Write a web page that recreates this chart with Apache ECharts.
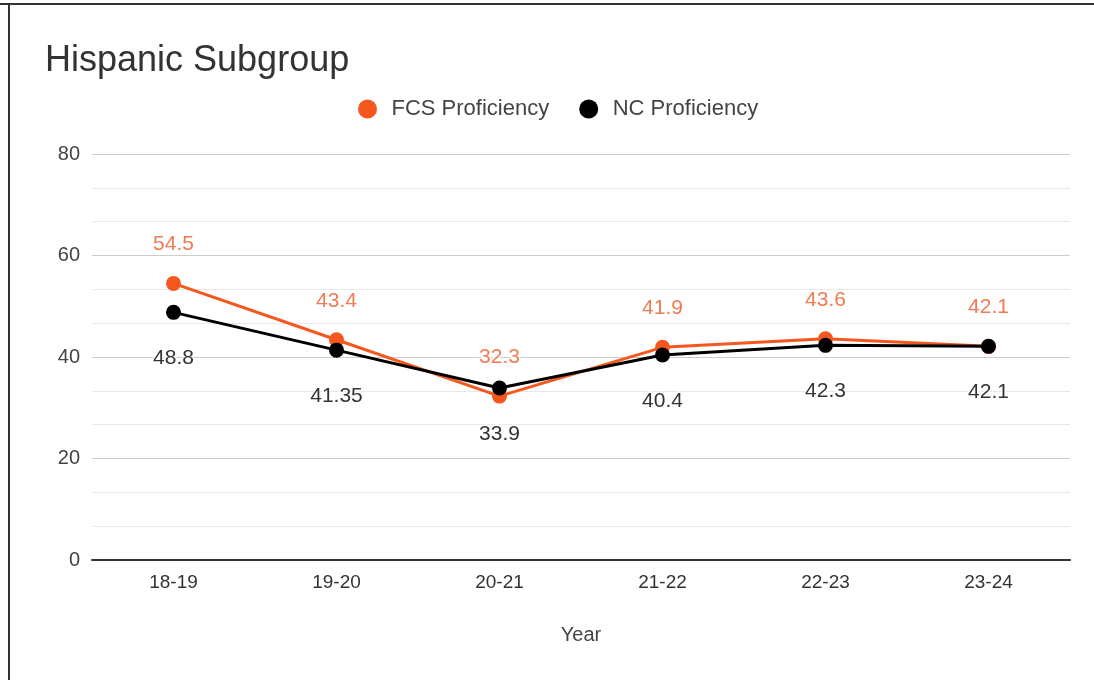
<!DOCTYPE html>
<html><head><meta charset="utf-8">
<script src="https://cdn.jsdelivr.net/npm/echarts@6/dist/echarts.min.js"></script>
<style>html,body{margin:0;padding:0;background:#fff}#c{width:1094px;height:680px}</style>
</head><body><div id="c"></div>
<script>
const categories = ['18-19','19-20','20-21','21-22','22-23','23-24'];
const fcsValues = [54.5, 43.4, 32.3, 41.9, 43.6, 42.1];
const ncValues = [48.8, 41.35, 33.9, 40.4, 42.3, 42.1];
const yTicks = [0, 20, 40, 60, 80];

const FONT = 'Liberation Sans, Arial, sans-serif';
const chart = echarts.init(document.getElementById('c'));
chart.setOption({
  backgroundColor: '#fff',
  animation: false,
  textStyle: { fontFamily: FONT },
  title: {
    text: 'Hispanic Subgroup', left: 40, top: 38,
    textStyle: { fontFamily: FONT, fontSize: 36, fontWeight: 'normal', color: '#333' }
  },
  legend: {
    top: 93, left: 353, itemGap: 30, itemWidth: 38, itemHeight: 19,
    icon: 'circle', symbolKeepAspect: true,
    textStyle: { fontFamily: FONT, fontSize: 22, color: '#444' },
    data: ['FCS Proficiency', 'NC Proficiency']
  },
  graphic: [
    { type: 'line', shape: { x1: 0, y1: 4, x2: 1094, y2: 4 }, style: { stroke: '#333', lineWidth: 2 } },
    { type: 'line', shape: { x1: 9, y1: 3, x2: 9, y2: 680 }, style: { stroke: '#333', lineWidth: 2 } }
  ],
  grid: { left: 92, right: 24, top: 154, bottom: 120, containLabel: false },
  xAxis: {
    type: 'category', data: categories, boundaryGap: true,
    name: 'Year', nameLocation: 'middle', nameGap: 65,
    nameTextStyle: { fontFamily: FONT, fontSize: 20, color: '#444' },
    axisLine: { lineStyle: { color: '#333', width: 2 } },
    axisTick: { show: false },
    axisLabel: { fontFamily: FONT, fontSize: 19, color: '#333', margin: 13 }
  },
  yAxis: {
    type: 'value', min: yTicks[0], max: yTicks[yTicks.length - 1], interval: 20,
    axisLine: { show: false }, axisTick: { show: false },
    axisLabel: { fontFamily: FONT, fontSize: 20, color: '#444', margin: 12 },
    splitLine: { lineStyle: { color: '#cccccc', width: 1 } },
    minorTick: { show: false, splitNumber: 3 },
    minorSplitLine: { show: true, lineStyle: { color: '#e8e8e8', width: 1 } }
  },
  series: [
    {
      name: 'FCS Proficiency', type: 'line', data: fcsValues,
      symbol: 'circle', symbolSize: 15, z: 2,
      itemStyle: { color: '#f4581f' },
      lineStyle: { color: '#f4581f', width: 3 },
      label: { show: true, position: 'top', distance: 21, fontFamily: FONT, fontSize: 21, color: '#f07a52',
               textBorderColor: '#fff', textBorderWidth: 3 }
    },
    {
      name: 'NC Proficiency', type: 'line', data: ncValues,
      symbol: 'circle', symbolSize: 15, z: 3,
      itemStyle: { color: '#000' },
      lineStyle: { color: '#000', width: 3 },
      label: { show: true, position: 'bottom', distance: 28, fontFamily: FONT, fontSize: 21, color: '#333',
               textBorderColor: '#fff', textBorderWidth: 3 }
    }
  ]
});
</script></body></html>
